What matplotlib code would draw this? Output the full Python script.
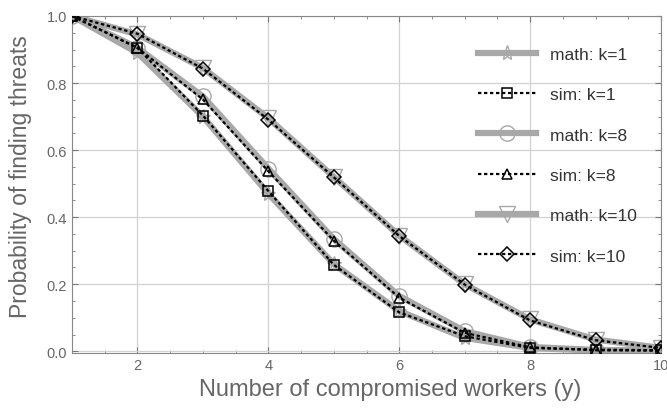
import numpy as np
import matplotlib.pyplot as plt
from matplotlib.ticker import MultipleLocator

plt.rcParams['font.family'] = ['Liberation Sans', 'DejaVu Sans']

workers = [1, 2, 3, 4, 5, 6, 7, 8, 9, 10]

math_k1 = [1.0, 0.89, 0.70, 0.47, 0.26, 0.12, 0.04, 0.01, 0.002, 0.0]
sim_k1 = [1.0, 0.905, 0.703, 0.478, 0.258, 0.116, 0.045, 0.01, 0.005, 0.003]
math_k8 = [1.0, 0.905, 0.76, 0.545, 0.335, 0.165, 0.06, 0.013, 0.004, 0.002]
sim_k8 = [1.0, 0.905, 0.751, 0.537, 0.33, 0.16, 0.055, 0.012, 0.003, 0.002]
math_k10 = [1.0, 0.945, 0.845, 0.695, 0.52, 0.345, 0.20, 0.095, 0.035, 0.01]
sim_k10 = [1.0, 0.947, 0.843, 0.691, 0.519, 0.344, 0.199, 0.092, 0.033, 0.01]

gray = '#a8a8a8'
txt = '#666666'

fig = plt.figure(figsize=(6.67, 4.14), dpi=100)
ax = fig.add_axes([0.108, 0.145, 0.883, 0.814])

def math_line(y, m, label):
    ax.plot(workers, y, color=gray, lw=4.5, marker=m, ms=11, mfc='none',
            mec=gray, mew=1.0, label=label, zorder=2)

def sim_line(y, m, label):
    ax.plot(workers, y, color='black', lw=1.6, ls=(0, (1.5, 1.2)), marker=m,
            ms=7, mfc='none', mec='black', mew=1.1, label=label, zorder=3)

math_line(math_k1, '*', 'math: k=1')
sim_line(sim_k1, 's', 'sim: k=1')
math_line(math_k8, 'o', 'math: k=8')
sim_line(sim_k8, '^', 'sim: k=8')
math_line(math_k10, 'v', 'math: k=10')
sim_line(sim_k10, 'D', 'sim: k=10')

ax.set_xlim(1, 10)
ax.set_ylim(-0.005, 1.0)
ax.xaxis.set_minor_locator(MultipleLocator(0.5))
ax.yaxis.set_minor_locator(MultipleLocator(0.05))
ax.set_xticks([2, 4, 6, 8, 10])
ax.set_yticks([0.0, 0.2, 0.4, 0.6, 0.8, 1.0])
ax.grid(True, which='major', color='#d2d2d2', lw=0.9)
ax.tick_params(which='both', direction='in', top=True, right=True,
               colors='#777777', labelcolor=txt, labelsize=10.5)
ax.tick_params(which='major', length=4)
ax.tick_params(which='minor', length=2.5)
for s in ax.spines.values():
    s.set_color('#888888')

ax.set_xlabel('Number of compromised workers (y)', fontsize=17, color=txt)
ax.set_ylabel('Probability of finding threats', fontsize=16.5, color=txt)
ax.xaxis.set_label_coords(0.54, -0.075)
ax.yaxis.set_label_coords(-0.068, 0.525)

ax.legend(loc='upper right', bbox_to_anchor=(0.985, 0.955), frameon=False,
          fontsize=12.5, handlelength=3.3, labelspacing=1.45, labelcolor='#333333')

fig.savefig('out.png', dpi=100)
